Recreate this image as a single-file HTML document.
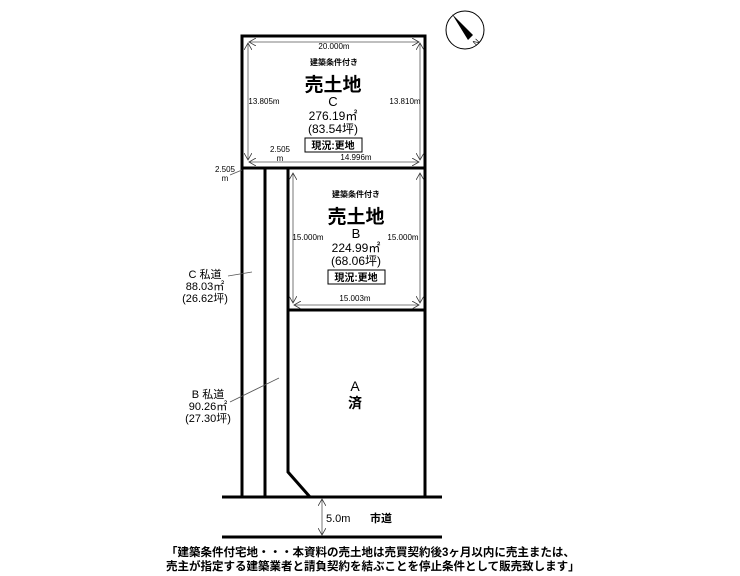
<!DOCTYPE html>
<html><head><meta charset="utf-8"><style>
html,body{margin:0;padding:0;background:#fff;}
svg{display:block;font-family:"Liberation Sans","Noto Sans CJK JP",sans-serif;}
</style></head><body>
<svg width="740" height="576" viewBox="0 0 740 576" xmlns="http://www.w3.org/2000/svg">
<defs>
<marker id="a" markerWidth="8" markerHeight="8" refX="7" refY="4" orient="auto-start-reverse" markerUnits="userSpaceOnUse">
<path d="M0,0 L7,4 L0,8" fill="none" stroke="#333" stroke-width="0.8"/></marker>
</defs>
<g stroke="#000" stroke-width="3" fill="none">
<rect x="242" y="36" width="183" height="132"/>
<line x1="242" y1="168" x2="242" y2="497"/>
<line x1="265" y1="168" x2="265" y2="497"/>
<polyline points="288,168 288,472 310,497"/>
<line x1="425" y1="168" x2="425" y2="497"/>
<line x1="288" y1="310" x2="425" y2="310"/>
<line x1="222" y1="497" x2="442" y2="497"/>
<line x1="222" y1="537" x2="442" y2="537"/>
</g>
<g stroke="#555" stroke-width="0.8" fill="none">
<line x1="249" y1="42" x2="419" y2="42" marker-start="url(#a)" marker-end="url(#a)"/>
<line x1="248" y1="43" x2="248" y2="160" marker-start="url(#a)" marker-end="url(#a)"/>
<line x1="420" y1="43" x2="420" y2="160" marker-start="url(#a)" marker-end="url(#a)"/>
<line x1="249" y1="162" x2="419" y2="162" marker-start="url(#a)" marker-end="url(#a)"/>
<line x1="294" y1="305" x2="419" y2="305" marker-start="url(#a)" marker-end="url(#a)"/>
<line x1="293" y1="173" x2="293" y2="303" marker-start="url(#a)" marker-end="url(#a)"/>
<line x1="420" y1="173" x2="420" y2="303" marker-start="url(#a)" marker-end="url(#a)"/>
<line x1="322" y1="499" x2="322" y2="535" marker-start="url(#a)" marker-end="url(#a)"/>
<line x1="230" y1="175" x2="242" y2="170"/>
<line x1="228" y1="276" x2="252" y2="272"/>
<line x1="230" y1="402" x2="279" y2="378"/>
</g>
<g font-size="8" fill="#000" text-anchor="middle">
<text x="334" y="49">20.000m</text>
<text x="264" y="104">13.805m</text>
<text x="405" y="104">13.810m</text>
<text x="280" y="152">2.505</text>
<text x="280" y="161">m</text>
<text x="356" y="160">14.996m</text>
<text x="225" y="172">2.505</text>
<text x="225" y="181">m</text>
<text x="308" y="240">15.000m</text>
<text x="403" y="240">15.000m</text>
<text x="355" y="301">15.003m</text>
<text x="334" y="65" font-weight="bold">建築条件付き</text>
<text x="356" y="197" font-weight="bold">建築条件付き</text>
</g>
<g fill="#000" text-anchor="middle">
<text x="333" y="91" font-size="19" font-weight="bold">売土地</text>
<text x="333" y="106" font-size="13">C</text>
<text x="333" y="120" font-size="12">276.19㎡</text>
<text x="333" y="133" font-size="12">(83.54坪)</text>
<text x="356" y="223" font-size="19" font-weight="bold">売土地</text>
<text x="356" y="238" font-size="13">B</text>
<text x="356" y="252" font-size="12">224.99㎡</text>
<text x="356" y="265" font-size="12">(68.06坪)</text>
<text x="355" y="391" font-size="14">A</text>
<text x="355" y="408" font-size="14" font-weight="bold">済</text>
<text x="205" y="278" font-size="11">C 私道</text>
<text x="205" y="290" font-size="11">88.03㎡</text>
<text x="205" y="302" font-size="11">(26.62坪)</text>
<text x="208" y="398" font-size="11">B 私道</text>
<text x="208" y="410" font-size="11">90.26㎡</text>
<text x="208" y="422" font-size="11">(27.30坪)</text>
<text x="326" y="522" font-size="11" text-anchor="start">5.0m</text>
<text x="370" y="522" font-size="11" font-weight="bold" text-anchor="start">市道</text>
</g>
<rect x="305" y="138" width="57" height="14" fill="none" stroke="#000" stroke-width="1"/>
<text x="333" y="149" font-size="10" font-weight="bold" text-anchor="middle">現況:更地</text>
<rect x="328" y="270" width="57" height="14" fill="none" stroke="#000" stroke-width="1"/>
<text x="356" y="281" font-size="10" font-weight="bold" text-anchor="middle">現況:更地</text>
<g font-size="11.5" font-weight="bold" fill="#000">
<text x="166" y="556">「建築条件付宅地・・・本資料の売土地は売買契約後3ヶ月以内に売主または、</text>
<text x="166" y="570">売主が指定する建築業者と請負契約を結ぶことを停止条件として販売致します」</text>
</g>
<circle cx="465" cy="30" r="19" fill="none" stroke="#000" stroke-width="1"/>
<polygon points="452,14 468,40 473,35" fill="#000"/>
<text x="474" y="47" font-size="8" transform="rotate(-45 474 44)">N</text>
</svg>
</body></html>
